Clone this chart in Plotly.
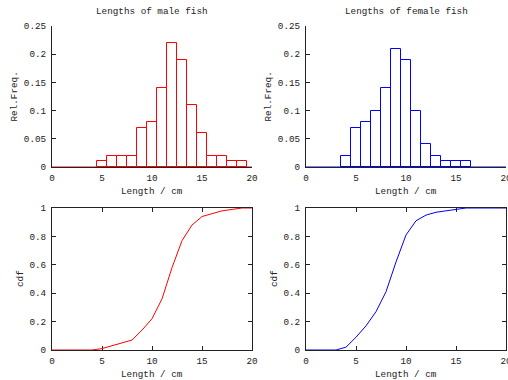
import plotly.graph_objects as go

# ---- data ----
lengths = list(range(0, 21))
male_freq = [0, 0, 0, 0, 0, 0.01, 0.02, 0.02, 0.02, 0.07, 0.08, 0.14, 0.22, 0.19,
             0.11, 0.06, 0.02, 0.02, 0.01, 0.01, 0]
female_freq = [0, 0, 0, 0, 0.02, 0.07, 0.08, 0.10, 0.14, 0.21, 0.19, 0.10, 0.04, 0.02,
               0.01, 0.01, 0.01, 0, 0, 0, 0]
male_cdf = [0, 0, 0, 0, 0, 0.01, 0.03, 0.05, 0.07, 0.14, 0.22, 0.36, 0.58, 0.77,
            0.88, 0.94, 0.96, 0.98, 0.99, 1.0, 1.0]
female_cdf = [0, 0, 0, 0, 0.02, 0.09, 0.17, 0.27, 0.41, 0.62, 0.81, 0.91, 0.95, 0.97,
              0.98, 0.99, 1.0, 1.0, 1.0, 1.0, 1.0]
titles = ["Lengths of male fish", "Lengths of female fish"]
x_label = "Length / cm"
y_label_top = "Rel.Freq."
y_label_bottom = "cdf"

RED = "#ff0000"
BLUE = "#0000ff"
FONT = "Liberation Mono, Courier New, monospace"
FS = 9.3
W, H = 508, 380

fig = go.Figure()

def xd(a, b):
    return [a / W, b / W]

def yd(top, bottom):
    return [(H - bottom) / H, (H - top) / H]

X_LEFT = xd(52, 252)
X_RIGHT = xd(306, 506)
Y_TOP = yd(26, 167)
Y_BOT = yd(208, 350)

panels = [
    ("x", "y", male_freq, RED, "hist"),
    ("x2", "y2", female_freq, BLUE, "hist"),
    ("x3", "y3", male_cdf, RED, "cdf"),
    ("x4", "y4", female_cdf, BLUE, "cdf"),
]

for xa, ya, vals, col, kind in panels:
    if kind == "hist":
        xs = [l for l, v in zip(lengths, vals) if v > 0]
        ys = [v for v in vals if v > 0]
        fig.add_trace(go.Bar(x=xs, y=ys, width=1, xaxis=xa, yaxis=ya,
                             marker=dict(color="white", line=dict(color=col, width=1)),
                             cliponaxis=False, showlegend=False, hoverinfo="skip"))
        fig.add_trace(go.Scatter(x=[lengths[0], lengths[-1]], y=[0, 0], mode="lines",
                                 line=dict(color=col, width=1), xaxis=xa, yaxis=ya,
                                 cliponaxis=False, showlegend=False, hoverinfo="skip"))
    else:
        fig.add_trace(go.Scatter(x=lengths, y=vals, mode="lines",
                                 line=dict(color=col, width=1), xaxis=xa, yaxis=ya,
                                 cliponaxis=False, showlegend=False, hoverinfo="skip"))

tickfont = dict(family=FONT, size=FS, color="#222")

def xaxis(dom, anchor, mirror):
    return dict(domain=dom, anchor=anchor, range=[0, 20], tickvals=[0, 5, 10, 15, 20],
                ticks="inside", ticklen=4, tickcolor="#222", showline=True,
                linecolor="#222", linewidth=1, mirror=mirror, showgrid=False,
                zeroline=False, tickfont=tickfont, layer="below traces",
                ticklabelstandoff=2, automargin=False, fixedrange=True,
                ticklabeloverflow="allow")

def yaxis(dom, anchor, rng, tv, tt, mirror):
    return dict(domain=dom, anchor=anchor, range=rng, tickvals=tv, ticktext=tt,
                ticks="inside", ticklen=4, tickcolor="#222", showline=True,
                linecolor="#222", linewidth=1, mirror=mirror, showgrid=False,
                zeroline=False, tickfont=tickfont, layer="below traces",
                ticklabelstandoff=3, automargin=False, fixedrange=True,
                ticklabeloverflow="allow")

ytv_top = [0, 0.05, 0.1, 0.15, 0.2, 0.25]
ytt_top = ["0", "0.05", "0.1", "0.15", "0.2", "0.25"]
ytv_bot = [0, 0.2, 0.4, 0.6, 0.8, 1]
ytt_bot = ["0", "0.2", "0.4", "0.6", "0.8", "1"]

fig.update_layout(
    width=W, height=H, margin=dict(l=0, r=0, t=0, b=0, autoexpand=False),
    paper_bgcolor="white", plot_bgcolor="white", bargap=0,
    xaxis=xaxis(X_LEFT, "y", False),
    yaxis=yaxis(Y_TOP, "x", [0, 0.25], ytv_top, ytt_top, False),
    xaxis2=xaxis(X_RIGHT, "y2", False),
    yaxis2=yaxis(Y_TOP, "x2", [0, 0.25], ytv_top, ytt_top, False),
    xaxis3=xaxis(X_LEFT, "y3", "allticks"),
    yaxis3=yaxis(Y_BOT, "x3", [0, 1], ytv_bot, ytt_bot, "allticks"),
    xaxis4=xaxis(X_RIGHT, "y4", "allticks"),
    yaxis4=yaxis(Y_BOT, "x4", [0, 1], ytv_bot, ytt_bot, "allticks"),
)

anns = []
lab_font = dict(family=FONT, size=FS, color="#222")
for i, dom in enumerate([X_LEFT, X_RIGHT]):
    cx = (dom[0] + dom[1]) / 2
    anns.append(dict(text=titles[i], x=cx, y=1 - 12 / H, xref="paper", yref="paper",
                     showarrow=False, font=lab_font, xanchor="center", yanchor="middle"))
    anns.append(dict(text=x_label, x=cx, y=1 - 191 / H, xref="paper", yref="paper",
                     showarrow=False, font=lab_font, xanchor="center", yanchor="middle"))
    anns.append(dict(text=x_label, x=cx, y=1 - 374 / H, xref="paper", yref="paper",
                     showarrow=False, font=lab_font, xanchor="center", yanchor="middle"))
    lx = dom[0] - 38 / W
    anns.append(dict(text=y_label_top, x=lx, y=1 - 96.5 / H, xref="paper", yref="paper",
                     showarrow=False, font=lab_font, textangle=-90,
                     xanchor="center", yanchor="middle"))
    lx2 = dom[0] - 32 / W
    anns.append(dict(text=y_label_bottom, x=lx2, y=1 - 279 / H, xref="paper", yref="paper",
                     showarrow=False, font=lab_font, textangle=-90,
                     xanchor="center", yanchor="middle"))
fig.update_layout(annotations=anns)

fig.write_html("out.html", config={"displayModeBar": False},
               post_script="document.body.style.margin='0';document.body.style.overflow='hidden';")
